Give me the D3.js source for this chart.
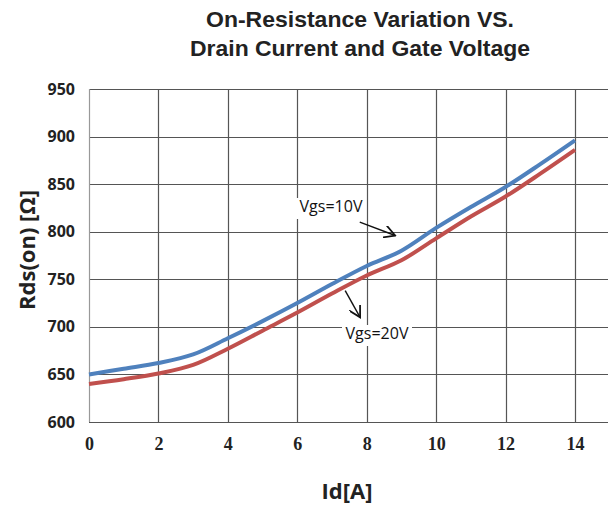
<!DOCTYPE html>
<html>
<head>
<meta charset="utf-8">
<script src="https://cdn.jsdelivr.net/npm/d3@7"></script>
<style>
  body { margin: 0; background: #fff; }
  svg { display: block; }
</style>
</head>
<body>
<svg id="chart" width="608" height="507"></svg>
<script>
const titleLines = ["On-Resistance Variation VS.", "Drain Current and Gate Voltage"];
const idValues = [0, 1, 2, 3, 4, 5, 6, 7, 8, 9, 10, 11, 12, 13, 14];
const vgs10 = [650, 656, 662, 671, 688, 706, 725, 745, 764, 780, 804, 826, 847, 871, 896];
const vgs20 = [640, 645, 651, 660, 677, 696, 715, 735, 754, 770, 793, 816, 837, 861, 886];
const xTicks = [0, 2, 4, 6, 8, 10, 12, 14];
const yTicks = [600, 650, 700, 750, 800, 850, 900, 950];

const svg = d3.select("#chart");
const margin = { top: 89, right: 0, bottom: 85, left: 89 };
const width = 608 - margin.left - margin.right;
const height = 507 - margin.top - margin.bottom;

const x = d3.scaleLinear().domain([0, 14]).range([0, 486]);
const y = d3.scaleLinear().domain([600, 950]).range([height, 0]);

const g = svg.append("g").attr("transform", `translate(${margin.left},${margin.top})`);

// title (narrow bold face, stretched to the original widths)
const titleWidths = [308, 340];
svg.append("g").selectAll("text")
    .data(titleLines)
    .enter().append("text")
    .attr("x", 360)
    .attr("y", (d, i) => 27 + i * 29)
    .attr("text-anchor", "middle")
    .attr("font-family", "Liberation Sans Narrow, Liberation Sans, Arial, sans-serif")
    .attr("font-weight", "bold")
    .attr("font-size", "22px")
    .attr("textLength", (d, i) => titleWidths[i])
    .attr("lengthAdjust", "spacingAndGlyphs")
    .attr("fill", "#222")
    .text(d => d);

// grid
g.append("g")
    .selectAll("line")
    .data(yTicks)
    .enter().append("line")
    .attr("x1", 0).attr("x2", width + 5)
    .attr("y1", d => Math.round(y(d)) + 0.5).attr("y2", d => Math.round(y(d)) + 0.5)
    .attr("stroke", "#555").attr("stroke-width", 1.2);

g.append("g")
    .selectAll("line")
    .data(xTicks)
    .enter().append("line")
    .attr("x1", d => Math.round(x(d)) + 0.5).attr("x2", d => Math.round(x(d)) + 0.5)
    .attr("y1", 0).attr("y2", height)
    .attr("stroke", d => d === 0 ? "#999" : "#555").attr("stroke-width", 1.2);

// y axis labels
const yAxis = d3.axisLeft(y).tickValues(yTicks).tickSize(0).tickPadding(14);
g.append("g").call(yAxis)
    .call(s => s.select(".domain").remove())
    .selectAll("text")
    .attr("font-family", "Open Sans, sans-serif")
    .attr("font-weight", "bold")
    .attr("font-size", "16px")
    .attr("fill", "#222");

// x axis labels
const xAxis = d3.axisBottom(x).tickValues(xTicks).tickSize(0).tickPadding(15);
g.append("g").attr("transform", `translate(0,${height})`).call(xAxis)
    .call(s => s.select(".domain").remove())
    .selectAll("text")
    .attr("font-family", "Liberation Serif, serif")
    .attr("font-weight", "bold")
    .attr("font-size", "18px")
    .attr("fill", "#222");

// axis titles
svg.append("text")
    .attr("transform", "translate(35,250) rotate(-90)")
    .attr("text-anchor", "middle")
    .attr("font-family", "Open Sans, sans-serif")
    .attr("font-weight", "bold")
    .attr("font-size", "22px")
    .attr("fill", "#222")
    .text("Rds(on) [Ω]");

svg.append("text")
    .attr("x", 347)
    .attr("y", 499)
    .attr("text-anchor", "middle")
    .attr("font-family", "Open Sans, sans-serif")
    .attr("font-weight", "bold")
    .attr("font-size", "22px")
    .attr("fill", "#222")
    .text("Id[A]");

// curves
const line = d3.line()
    .x((d, i) => x(idValues[i]))
    .y(d => y(d))
    .curve(d3.curveCatmullRom.alpha(0.5));

g.append("path").datum(vgs20)
    .attr("d", line)
    .attr("fill", "none")
    .attr("stroke", "#c0504d")
    .attr("stroke-width", 4);

g.append("path").datum(vgs10)
    .attr("d", line)
    .attr("fill", "none")
    .attr("stroke", "#4f81bd")
    .attr("stroke-width", 4);

// annotations
svg.append("defs").append("marker")
    .attr("id", "arrow")
    .attr("viewBox", "0 0 10 10")
    .attr("refX", 9).attr("refY", 5)
    .attr("markerWidth", 9).attr("markerHeight", 9)
    .attr("orient", "auto")
    .append("path")
    .attr("d", "M0,0 L9,5 L0,10")
    .attr("fill", "none")
    .attr("stroke", "#111")
    .attr("stroke-width", 1.4);

const notes = [
    { label: "Vgs=10V", tx: 331, ty: 212, from: [7.8, 810], to: [8.82, 796] },
    { label: "Vgs=20V", tx: 377, ty: 339, from: [7.38, 738], to: [7.81, 710] }
];

notes.forEach(n => {
    svg.append("rect")
        .attr("x", n.tx - 35).attr("y", n.ty - 14)
        .attr("width", 70).attr("height", 21)
        .attr("fill", "#fff");
    svg.append("text")
        .attr("x", n.tx).attr("y", n.ty)
        .attr("text-anchor", "middle")
        .attr("font-family", "Open Sans, sans-serif")
        .attr("font-size", "16px")
        .attr("fill", "#111")
        .text(n.label);
    g.append("line")
        .attr("x1", x(n.from[0])).attr("y1", y(n.from[1]))
        .attr("x2", x(n.to[0])).attr("y2", y(n.to[1]))
        .attr("stroke", "#111")
        .attr("stroke-width", 1.4)
        .attr("marker-end", "url(#arrow)");
});
</script>
</body>
</html>
